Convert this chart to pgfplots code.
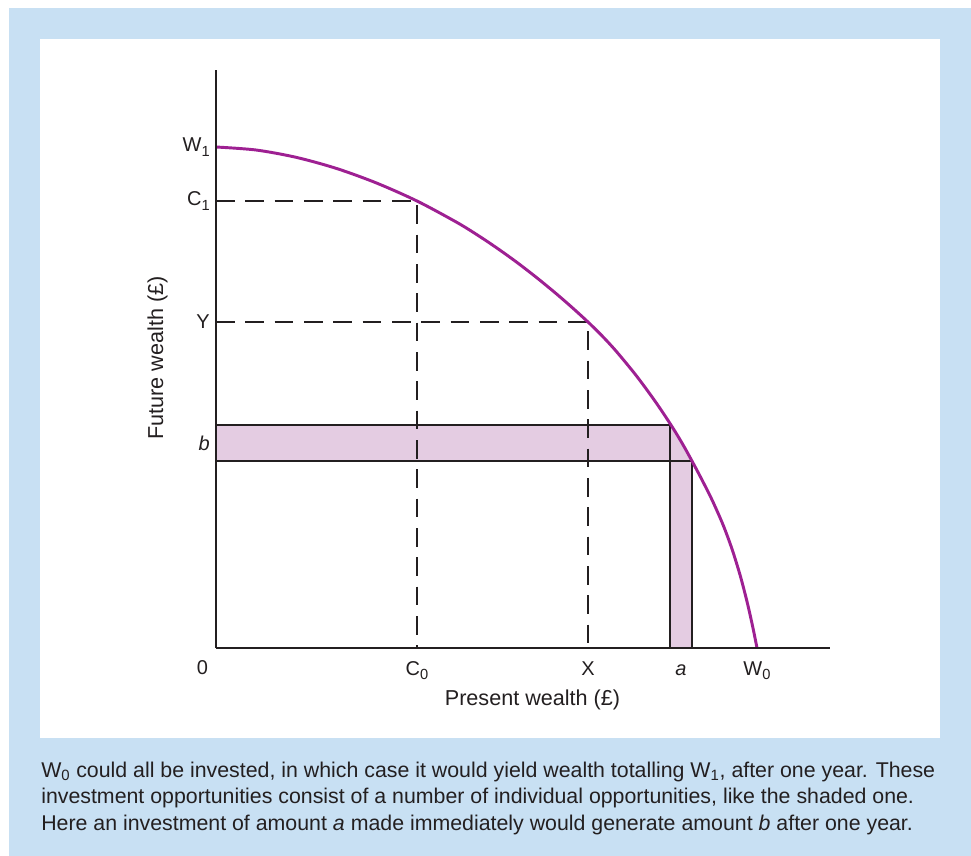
\documentclass[border=0pt]{standalone}
\usepackage{pgfplots}
\pgfplotsset{compat=1.18}
\usepackage{fontspec}
\setmainfont{Liberation Sans}

\definecolor{framebg}{HTML}{C8E0F3}
\definecolor{curvec}{RGB}{158,32,146}
\definecolor{shade}{HTML}{E4CCE2}
\definecolor{ink}{HTML}{231F20}

\newcommand{\lblfont}{\fontsize{16.2}{19}\selectfont}
\newcommand{\tkfont}{\fontsize{15}{18}\selectfont}
\newcommand{\capfont}{\fontsize{16}{19}\selectfont}
% tick-label subscript: larger and lower than \textsubscript
\newcommand{\sub}[1]{\raisebox{-3.4pt}{\fontsize{11}{13}\selectfont #1}}

\begin{document}
\begin{tikzpicture}
% frame, in pixel units of the reference
\begin{scope}[x=0.75pt,y=-0.75pt]
  \fill[white] (0,0) rectangle (971,856);
  \fill[framebg] (9,8) rectangle (971,856);
  \fill[white] (40,39) rectangle (940,738);
\end{scope}

\begin{axis}[
  at={(162pt,-486pt)}, anchor=south west,
  x=0.75pt, y=0.75pt,
  xmin=0, xmax=614, ymin=0, ymax=578,
  axis lines=left,
  axis line style={-, line width=1.1pt, ink},
  axis on top,
  clip=false,
  xtick={201,372,465,541},
  xticklabels={C\sub{0}, X, \textit{a}, W\sub{0}},
  ytick={205,326,447,501},
  yticklabels={\textit{b}, Y, C\sub{1}, W\sub{1}},
  major tick length=0pt,
  tick style={draw=none},
  tick label style={font=\tkfont, text=ink},
  x tick label style={anchor=base, inner sep=0pt, yshift=-20.25pt},
  y tick label style={anchor=east, inner sep=0pt, xshift=-4.5pt},
  every axis x label/.style={at={(axis description cs:0.5155,-0.1003)}, anchor=base, font=\lblfont, text=ink},
  every axis y label/.style={at={(axis description cs:-0.0863,0.5017)}, rotate=90, anchor=base, font=\lblfont, text=ink},
  xlabel={Present wealth (£)},
  ylabel={Future wealth (£)},
]
% shaded investment
\addplot[fill=shade, draw=none] coordinates {
  (0,187) (0,223) (455,223) (466,205) (476,187) (476,0) (454,0) (454,187)
} -- cycle;
\addplot[ink, line width=1pt] coordinates {(0,223) (454,223) (454,0)};
\addplot[ink, line width=1pt] coordinates {(0,187) (476,187) (476,0)};

% dashed guides
\addplot[ink, line width=0.9pt, dash pattern=on 14pt off 8pt] coordinates {(0,447) (201,447) (201,0)};
\addplot[ink, line width=0.9pt, dash pattern=on 14pt off 8pt] coordinates {(0,326) (372,326) (372,0)};

% investment opportunities curve
\addplot[curvec, line width=2.2pt, smooth] coordinates {
  (0,501) (40,498) (80,490.7) (120,479.7) (160,465.2) (201,447)
  (240,426.1) (260,413.9) (280,400.6) (300,386.3) (320,370.9) (340,354.5)
  (356,340.6) (372,326) (386,312.2) (400,297) (420,272.7) (439,246.9)
  (455,223) (466,205) (476,187) (486,168.1) (496,148.2) (507,123.3)
  (516,99) (524,73.2) (530,50.5) (534,33.6) (538,15.1) (541,0)
};

\node[anchor=base, inner sep=0pt, font=\tkfont, text=ink] at (axis cs:-13.5,-26) {0};
\end{axis}

% caption
\begin{scope}[x=0.75pt,y=-0.75pt, every node/.style={anchor=base west, inner sep=0pt, text=ink, font=\capfont}]
  \node at (41,777) {W\textsubscript{0} could all be invested, in which case it would yield wealth totalling W\textsubscript{1}, after one year. These};
  \node at (41,803) {investment opportunities consist of a number of individual opportunities, like the shaded one.};
  \node at (41,830) {Here an investment of amount \textit{a} made immediately would generate amount \textit{b} after one year.};
\end{scope}
\end{tikzpicture}
\end{document}
